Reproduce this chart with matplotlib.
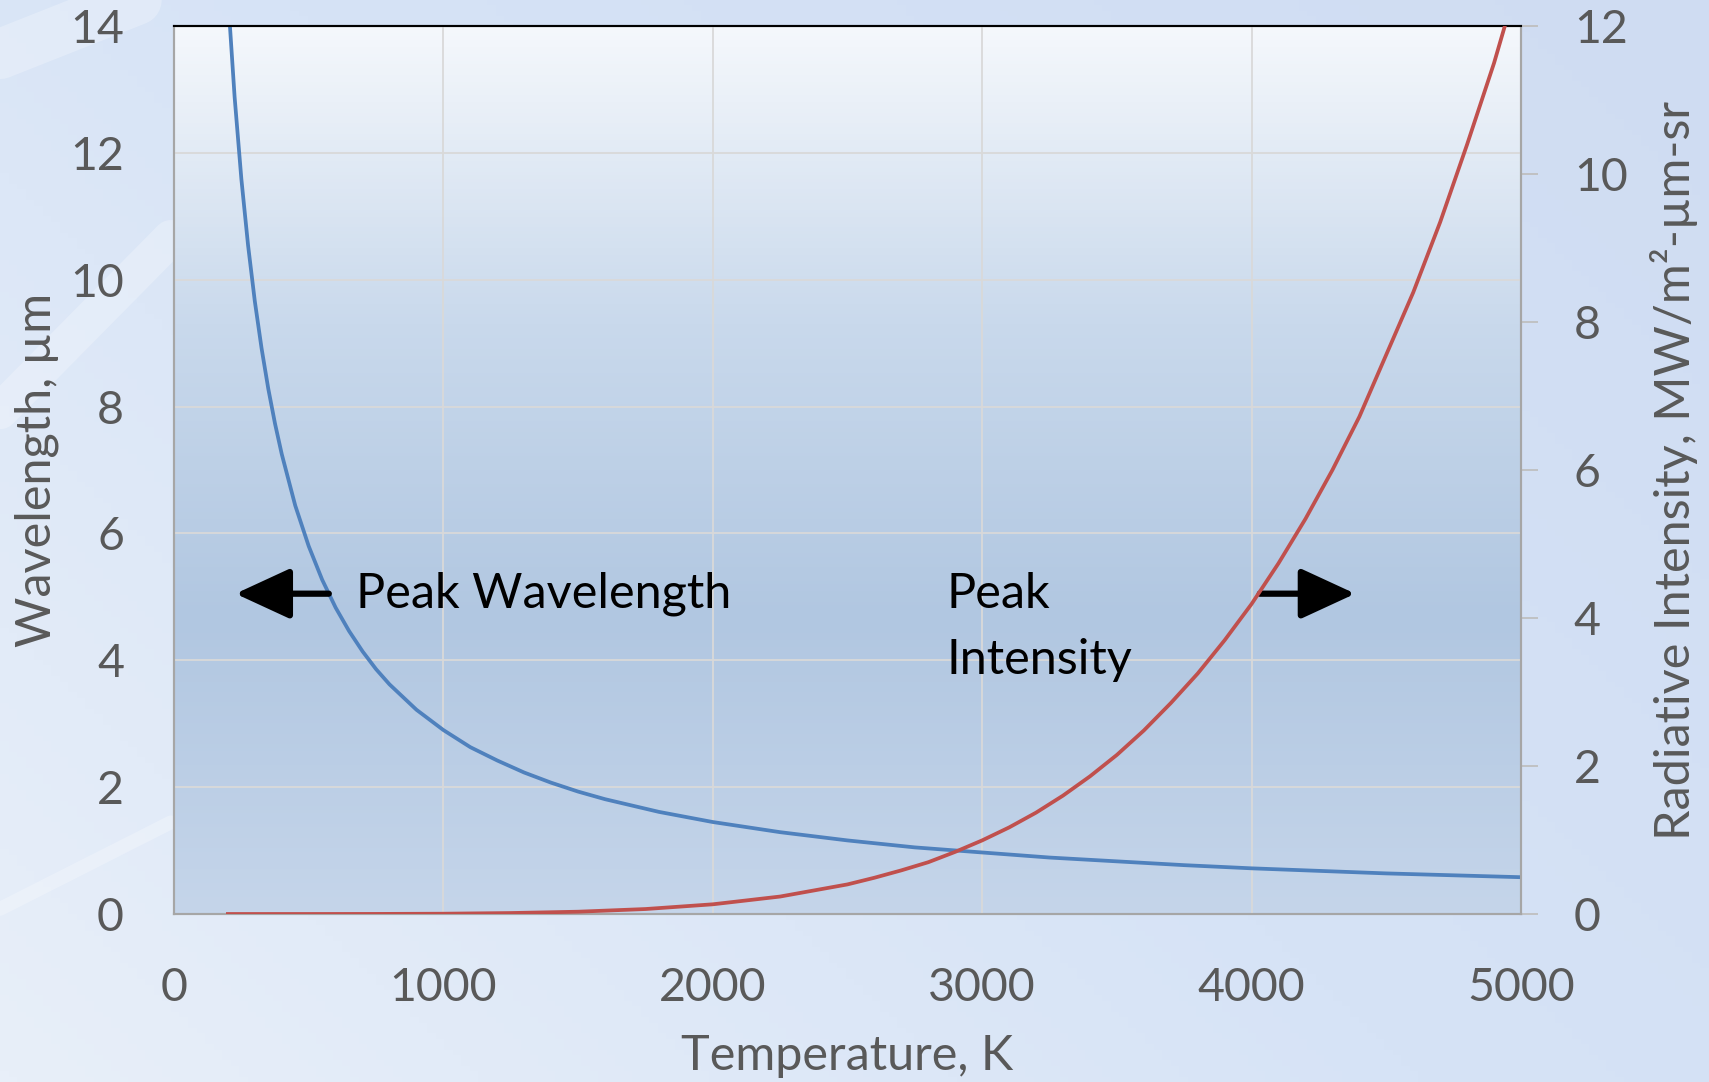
import numpy as np
import matplotlib.pyplot as plt
from matplotlib.colors import LinearSegmentedColormap

plt.rcParams['font.family'] = ['Lato', 'DejaVu Sans']

# peak wavelength (left axis)
temp_wl = [200, 225, 250, 275, 300, 325, 350, 375, 400, 450, 500, 550, 600, 650, 700, 750, 800, 900,
           1000, 1100, 1200, 1300, 1400, 1500, 1600, 1800, 2000, 2250, 2500, 2750, 3000, 3250, 3500,
           3750, 4000, 4250, 4500, 4750, 5000]
peak_wl = [14.49, 12.88, 11.59, 10.54, 9.66, 8.92, 8.28, 7.73, 7.25, 6.44, 5.80, 5.27, 4.83, 4.46,
           4.14, 3.86, 3.62, 3.22, 2.90, 2.63, 2.42, 2.23, 2.07, 1.93, 1.81, 1.61, 1.45, 1.29, 1.16,
           1.05, 0.97, 0.89, 0.83, 0.77, 0.72, 0.68, 0.64, 0.61, 0.58]

# peak intensity (right axis)
temp_int = [200, 500, 750, 1000, 1250, 1500, 1750, 2000, 2250, 2500, 2600, 2700, 2800, 2900, 3000,
            3100, 3200, 3300, 3400, 3500, 3600, 3700, 3800, 3900, 4000, 4100, 4200, 4300, 4400,
            4500, 4600, 4700, 4800, 4900, 4940]
peak_int = [0.0, 0.0001, 0.001, 0.004, 0.013, 0.031, 0.067, 0.131, 0.236, 0.40, 0.49, 0.59, 0.70,
            0.84, 0.995, 1.17, 1.37, 1.60, 1.86, 2.15, 2.48, 2.85, 3.25, 3.70, 4.19, 4.74, 5.34,
            6.00, 6.72, 7.56, 8.40, 9.35, 10.4, 11.5, 12.0]

x_ticks = [0, 1000, 2000, 3000, 4000, 5000]
left_ticks = [0, 2, 4, 6, 8, 10, 12, 14]
right_ticks = [0, 2, 4, 6, 8, 10, 12]

grey = '#595959'

fig = plt.figure(figsize=(17.09, 10.82), dpi=100)

# sky-ish background
bg = fig.add_axes([0, 0, 1, 1], zorder=-10)
sky = LinearSegmentedColormap.from_list('sky', ['#e8eff9', '#d6e3f6', '#cfdcf2'])
gx, gy = np.meshgrid(np.linspace(0, 1, 200), np.linspace(0, 1, 200))
bg.imshow(0.6 * gx + 0.4 * gy, cmap=sky, aspect='auto', extent=[0, 1, 0, 1], origin='lower')
for (x0, y0, x1, y1, w) in [(0, 0.16, 0.1, 0.24, 10), (0, 0.62, 0.1, 0.78, 26), (0.0, 0.95, 0.08, 1.0, 36)]:
    bg.plot([x0, x1], [y0, y1], color='white', lw=w, alpha=0.25, solid_capstyle='round')
bg.set_xlim(0, 1)
bg.set_ylim(0, 1)
bg.axis('off')

ax = fig.add_axes([174 / 1709, 1 - 914 / 1082, 1347 / 1709, 888 / 1082])
ax.set_facecolor('none')
# plot area gradient
pa = LinearSegmentedColormap.from_list('pa', ['#c5d5ea', '#b1c7e1', '#c9d9ec', '#f5f8fc'])
ax.imshow(np.linspace(0, 1, 256).reshape(-1, 1), cmap=pa, aspect='auto',
          extent=[0, 5000, 0, 14], origin='lower', zorder=0)

ax.plot(temp_wl, peak_wl, color='#4f81bd', lw=2.7, zorder=3)
ax.set_xlim(0, 5000)
ax.set_ylim(0, 14)
ax.set_xticks(x_ticks)
ax.set_yticks(left_ticks)
ax.grid(True, color='#d9d9d9', lw=1.3, zorder=1)
ax.set_axisbelow(False)
ax.tick_params(axis='both', length=0, labelsize=33.5, labelcolor=grey)
ax.tick_params(axis='y', pad=36)
ax.tick_params(axis='x', pad=38)
for s in ['left', 'bottom', 'right']:
    ax.spines[s].set_color('#a6a6a6')
    ax.spines[s].set_linewidth(1.5)
ax.spines['top'].set_color('black')
ax.spines['top'].set_linewidth(1.5)
ax.set_xlabel('Temperature, K', fontsize=35, color=grey, labelpad=18)
ax.set_ylabel('Wavelength, µm', fontsize=35, color=grey, labelpad=8)

ax2 = ax.twinx()
ax2.plot(temp_int, peak_int, color='#c0504d', lw=2.7, zorder=3)
ax2.set_ylim(0, 12)
ax2.set_yticks(right_ticks)
ax2.tick_params(axis='y', length=12, width=1.3, color='#bfbfbf', labelsize=33.5, labelcolor=grey, pad=26)
for s in ['left', 'bottom', 'right']:
    ax2.spines[s].set_color('#a6a6a6')
    ax2.spines[s].set_linewidth(1.5)
ax2.spines['top'].set_color('black')
ax2.spines['top'].set_linewidth(1.5)
ax2.set_ylabel('Radiative Intensity, MW/m²-µm-sr', fontsize=35, color=grey, labelpad=16)

# annotations
arrow = dict(arrowstyle='-|>,head_length=1.3,head_width=0.6', color='black', lw=4.5, mutation_scale=26)
ax.annotate('', xy=(218, 5.05), xytext=(585, 5.05), arrowprops=arrow, zorder=5)
ax.annotate('', xy=(4395, 5.05), xytext=(4020, 5.05), arrowprops=arrow, zorder=5)
ax.text(676, 5.05, 'Peak Wavelength', fontsize=35, color='black', va='center', ha='left', zorder=5)
ax.text(2866, 5.05, 'Peak', fontsize=35, color='black', va='center', ha='left', zorder=5)
ax.text(2866, 4.0, 'Intensity', fontsize=35, color='black', va='center', ha='left', zorder=5)

fig.savefig('out.png', dpi=100)
